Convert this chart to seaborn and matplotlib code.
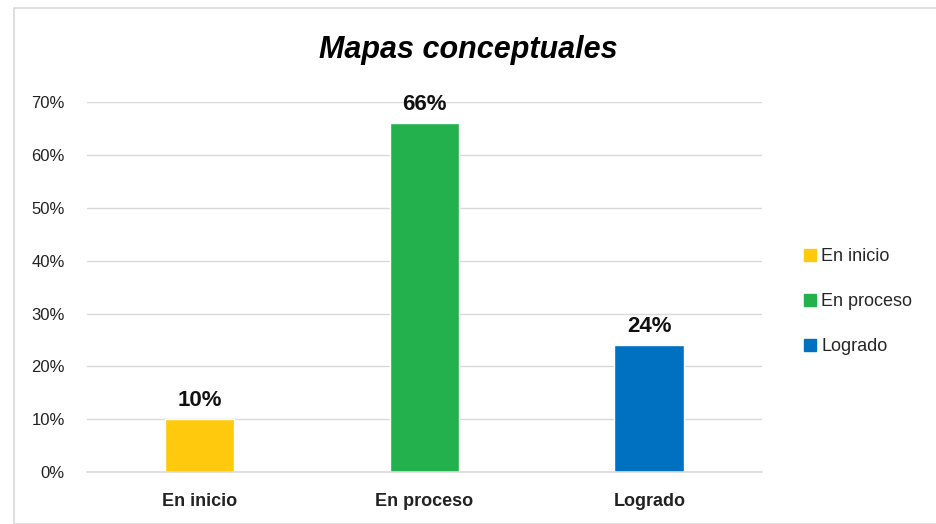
import matplotlib
matplotlib.use("Agg")
import matplotlib.pyplot as plt
import seaborn as sns
import pandas as pd
from matplotlib.patches import Rectangle
from matplotlib.lines import Line2D

categories = ["En inicio", "En proceso", "Logrado"]
values = [0.10, 0.66, 0.24]
labels = ["10%", "66%", "24%"]
colors = ["#FFC90E", "#22B14C", "#0070C0"]
yticks = [0, 0.1, 0.2, 0.3, 0.4, 0.5, 0.6, 0.7]
yticklabels = ["0%", "10%", "20%", "30%", "40%", "50%", "60%", "70%"]
title = "Mapas conceptuales"

sns.set_theme(style="white")
plt.rcParams['font.family'] = ['Liberation Sans Narrow', 'Liberation Sans', 'DejaVu Sans']

df = pd.DataFrame({"cat": categories, "val": values})

fig = plt.figure(figsize=(9.37, 5.24), dpi=100)
ax = fig.add_axes([0.093, 0.099, 0.72, 0.706])

sns.barplot(data=df, x="cat", y="val", hue="cat", palette=colors,
            order=categories, hue_order=categories, width=0.31, dodge=False,
            legend=False, ax=ax, saturation=1)

ax.set_ylim(0, 0.7)
ax.set_xlim(-0.5, 2.5)
ax.set_yticks(yticks)
ax.set_yticklabels(yticklabels, fontsize=12, color="#222222")
ax.yaxis.grid(True, color="#D9D9D9", linewidth=1)
ax.set_axisbelow(True)
for s in ["top", "right", "left"]:
    ax.spines[s].set_visible(False)
ax.spines["bottom"].set_color("#D9D9D9")
ax.spines["bottom"].set_linewidth(1.2)
ax.tick_params(axis="y", length=0, pad=16)
ax.tick_params(axis="x", length=0, pad=15)
ax.set_xticks(range(len(categories)))
ax.set_xticklabels(categories, fontsize=13, fontweight="bold", color="#222222")
ax.set_xlabel("")
ax.set_ylabel("")

for i, (v, l) in enumerate(zip(values, labels)):
    ax.text(i, v + 0.015, l, ha="center", va="bottom", fontsize=16,
            fontweight="bold", color="#111111")

fig.text(0.5, 0.905, title, ha="center", va="center", fontsize=22,
         fontweight="bold", fontstyle="italic", color="black")

handles = [Line2D([0], [0], marker="s", linestyle="none", markersize=8,
                  markerfacecolor=c, markeredgecolor=c) for c in colors]
fig.legend(handles, categories, loc="center left", bbox_to_anchor=(0.838, 0.424),
           frameon=False, fontsize=13, handletextpad=0.1, labelspacing=1.55,
           handlelength=1.0)

fig.patches.append(Rectangle((0.015, 0.0), 0.985, 0.985, transform=fig.transFigure,
                             fill=False, edgecolor="#D9D9D9", linewidth=1.2))

fig.savefig("out.png", dpi=100)
